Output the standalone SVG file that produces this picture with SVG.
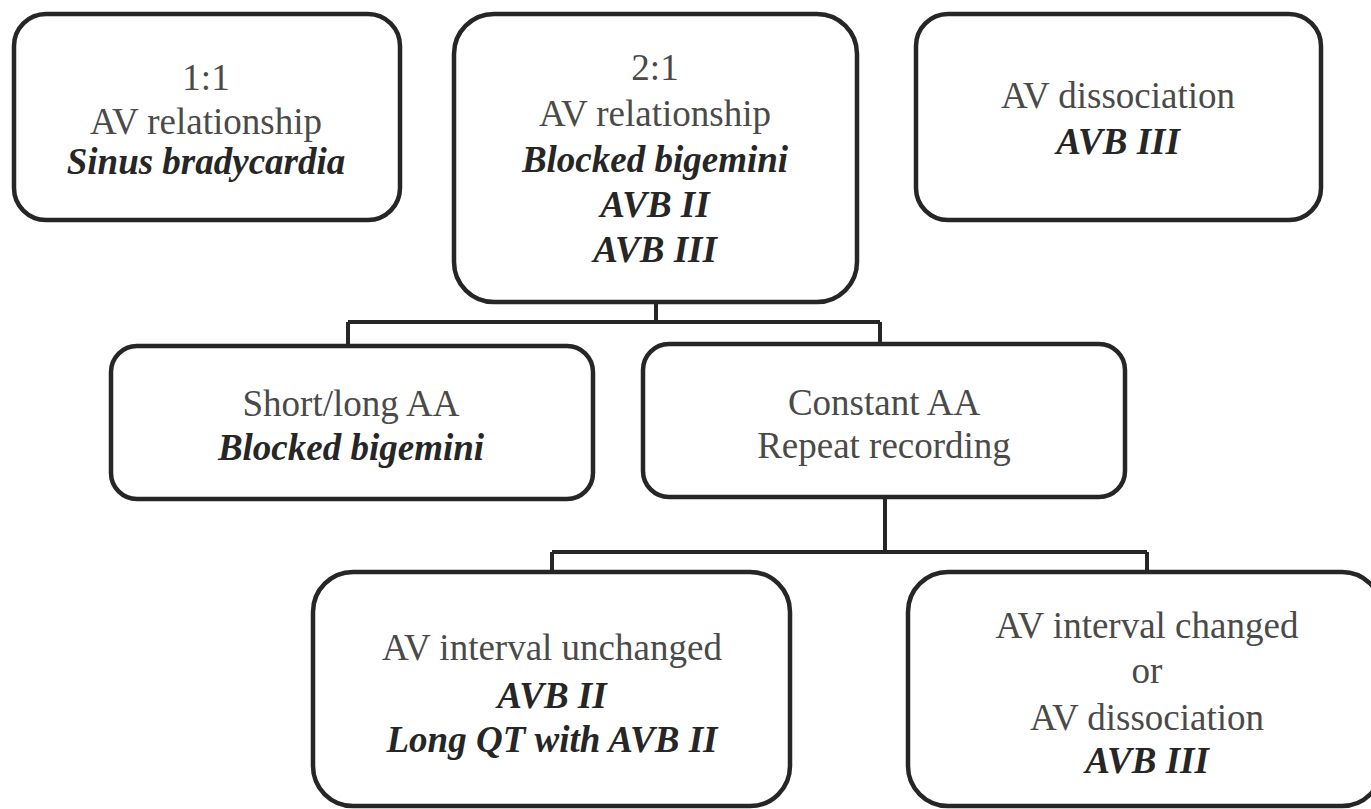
<svg xmlns="http://www.w3.org/2000/svg" width="1371" height="809" viewBox="0 0 1371 809">
<style>
.box{fill:#fff;stroke:#262626;stroke-width:4.5}
.conn{fill:none;stroke:#262626;stroke-width:4}
text{font-family:"Liberation Serif","Times New Roman",serif;font-size:37px;text-anchor:middle}
.r{fill:#4a4a4a}
.b{fill:#262626;font-weight:bold;font-style:italic}
</style>
<rect width="1371" height="809" fill="#fff"/>
<g id="connectors">
<path class="conn" d="M656 302 V322 M348 322 H880 M348 322 V346 M880 322 V344"/>
<path class="conn" d="M885 497 V552 M552 552 H1147 M552 552 V572 M1147 552 V572"/>
</g>
<g id="n1">
<rect class="box" x="14" y="14" width="386" height="206" rx="32"/>
<text class="r" x="206" y="90">1:1</text>
<text class="r" x="206" y="134">AV relationship</text>
<text class="b" x="206" y="174">Sinus bradycardia</text>
</g>
<g id="n2">
<rect class="box" x="454" y="14" width="403" height="288" rx="40"/>
<text class="r" x="655" y="80">2:1</text>
<text class="r" x="655" y="126">AV relationship</text>
<text class="b" x="655" y="172">Blocked bigemini</text>
<text class="b" x="655" y="217">AVB II</text>
<text class="b" x="655" y="262">AVB III</text>
</g>
<g id="n3">
<rect class="box" x="916" y="14" width="405" height="206" rx="32"/>
<text class="r" x="1118" y="108">AV dissociation</text>
<text class="b" x="1118" y="154">AVB III</text>
</g>
<g id="n4">
<rect class="box" x="111" y="346" width="482" height="153" rx="26"/>
<text class="r" x="351" y="416">Short/long AA</text>
<text class="b" x="351" y="460">Blocked bigemini</text>
</g>
<g id="n5">
<rect class="box" x="643" y="344" width="482" height="153" rx="26"/>
<text class="r" x="884" y="415">Constant AA</text>
<text class="r" x="884" y="458">Repeat recording</text>
</g>
<g id="n6">
<rect class="box" x="313" y="572" width="477" height="234" rx="40"/>
<text class="r" x="552" y="660">AV interval unchanged</text>
<text class="b" x="552" y="708">AVB II</text>
<text class="b" x="552" y="752">Long QT with AVB II</text>
</g>
<g id="n7">
<rect class="box" x="908" y="572" width="474" height="234" rx="40"/>
<text class="r" x="1147" y="638">AV interval changed</text>
<text class="r" x="1147" y="683">or</text>
<text class="r" x="1147" y="730">AV dissociation</text>
<text class="b" x="1147" y="773">AVB III</text>
</g>
</svg>
